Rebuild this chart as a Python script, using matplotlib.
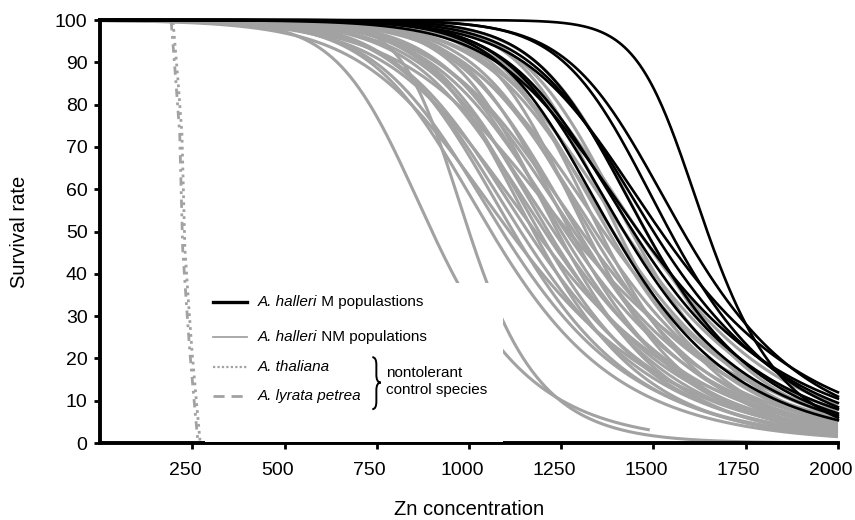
import numpy as np
import matplotlib
matplotlib.use('Agg')
import matplotlib.pyplot as plt
from matplotlib.patches import Rectangle, PathPatch
from matplotlib.path import Path
from matplotlib.transforms import ScaledTranslation

plt.rcParams['font.family'] = ['Liberation Sans', 'DejaVu Sans']

# ---------------------------------------------------------------------------
# Data
# each population curve: Zn at 50 % survival, last Zn tested, survival there
# ---------------------------------------------------------------------------
m_ld50 = [1390, 1420, 1445, 1460, 1480, 1500, 1520, 1545, 1580, 1646]
m_end = [5.4, 6.5, 8.0, 10.5, 7.0, 9.5, 12.0, 8.5, 11.0, 6.0]
m_xmax = [2000] * 10

nm_ld50 = [900, 1000, 1060, 1090, 1110, 1120, 1140, 1160, 1175, 1180, 1190,
           1205, 1215, 1230, 1240, 1250, 1262, 1270, 1275, 1285, 1295, 1305,
           1318, 1330, 1342, 1355, 1365, 1378, 1390, 1405, 1420, 1440, 1460,
           1480]
nm_end = [3.1, 0.05, 1.5, 2.0, 3.5, 1.8, 2.5, 3.0, 1.6, 4.5, 2.2,
          3.5, 2.8, 4.0, 2.0, 3.2, 4.5, 7.5, 2.6, 5.0, 3.8, 6.0,
          2.4, 4.2, 5.5, 3.0, 7.0, 4.8, 6.5, 3.6, 8.0, 5.2, 9.0,
          6.2]
nm_xmax = [1490] + [2000] * 33

thaliana_zn = [198, 212, 222, 230, 240, 249, 260, 271]
thaliana_surv = [99.5, 85, 73, 46, 33, 22, 11, 0.5]
lyrata_zn = [193, 206, 216, 224, 234, 243, 254, 265]
lyrata_surv = [99.5, 85, 73, 46, 33, 22, 11, 0.5]

x_ticks = [250, 500, 750, 1000, 1250, 1500, 1750, 2000]
y_ticks = list(range(0, 101, 10))

GRAY = '#a2a2a2'


def survival(ld50, y_end, x_end, shape, xs):
    """generalised logistic through 50 % at ld50 and y_end at x_end"""
    z50 = np.log(2 ** (1 / shape) - 1)
    z_end = np.log((y_end / 100) ** (-1 / shape) - 1)
    s = (x_end - ld50) / (z_end - z50)
    m = ld50 - z50 * s
    return 100 * (1 + np.exp((xs - m) / s)) ** (-shape)


fig = plt.figure(figsize=(8.55, 5.2), dpi=100)
ax = fig.add_axes([0.117, 0.148, 0.863, 0.8135])

for ld, ye, xe in zip(nm_ld50, nm_end, nm_xmax):
    xs = np.linspace(0, xe, 500)
    ax.plot(xs, survival(ld, ye, xe, 0.5, xs), color=GRAY, lw=2.2,
            solid_capstyle='butt', clip_on=False, zorder=2)

for ld, ye, xe in zip(m_ld50, m_end, m_xmax):
    xs = np.linspace(0, xe, 500)
    ax.plot(xs, survival(ld, ye, xe, 0.45, xs), color='black', lw=1.9,
            clip_on=False, zorder=2.2)

ax.plot(lyrata_zn, lyrata_surv, color=GRAY, lw=2, dashes=(3, 2, 1, 2),
        clip_on=False, zorder=2.3)
ax.plot(thaliana_zn, thaliana_surv, color=GRAY, lw=2, dashes=(1, 1.5),
        clip_on=False, zorder=2.3)

# white panel behind the legend (hides the curves like in the original)
ax.add_patch(Rectangle((0.142, 0.002), 0.404, 0.377, transform=ax.transAxes,
                       facecolor='white', edgecolor='none', zorder=3))

# legend, drawn by hand
rows = [0.333, 0.251, 0.180, 0.111]
styles = [dict(color='black', lw=2.4),
          dict(color=GRAY, lw=1.3),
          dict(color=GRAY, lw=1.6, dashes=(1, 1)),
          dict(color=GRAY, lw=2.0, dashes=(4, 2.5, 4, 2.5, 1, 2.5))]
names = ['A. halleri', 'A. halleri', 'A. thaliana', 'A. lyrata petrea']
rest = [' M populastions', ' NM populations', '', '']
for y, st, nm, rs in zip(rows, styles, names, rest):
    ax.plot([0.153, 0.199], [y, y], transform=ax.transAxes, zorder=4, **st)
    t = ax.text(0.214, y, nm, transform=ax.transAxes, fontsize=11,
                style='italic', va='center', zorder=4)
    if rs:
        ax.annotate(rs, xy=(1, 0.5), xycoords=t, va='center', fontsize=11,
                    zorder=4)

# curly brace
x0, xm, xt = 0.369, 0.3745, 0.3805
yt, yc, yb, d = 0.203, 0.143, 0.080, 0.018
brace = Path([(x0, yt), (xm, yt), (xm, yt - d), (xm, yc + d), (xm, yc),
              (xt, yc), (xm, yc), (xm, yc - d), (xm, yb + d), (xm, yb),
              (x0, yb)],
             [Path.MOVETO, Path.CURVE3, Path.CURVE3, Path.LINETO,
              Path.CURVE3, Path.CURVE3, Path.CURVE3, Path.CURVE3,
              Path.LINETO, Path.CURVE3, Path.CURVE3])
ax.add_patch(PathPatch(brace, transform=ax.transAxes, facecolor='none',
                       edgecolor='black', lw=1.4, zorder=4))
ax.text(0.388, 0.146, 'nontolerant\ncontrol species', transform=ax.transAxes,
        fontsize=11, va='center', linespacing=1.3, zorder=4)

ax.set_xlim(0, 2000)
ax.set_ylim(0, 100)
ax.set_xticks(x_ticks)
ax.set_yticks(y_ticks)
ax.spines['top'].set_visible(False)
ax.spines['right'].set_visible(False)
ax.spines['left'].set_linewidth(2.8)
ax.spines['bottom'].set_linewidth(2.8)
ax.tick_params(axis='both', direction='out', length=4, width=2, labelsize=14)
ax.tick_params(axis='x', pad=10)
ax.tick_params(axis='y', pad=5)
shift = ScaledTranslation(-7 / 100, 0, fig.dpi_scale_trans)
for lab in ax.get_xticklabels():
    lab.set_transform(lab.get_transform() + shift)
ax.set_xlabel('Zn concentration', fontsize=14.5, labelpad=15)
ax.set_ylabel('Survival rate', fontsize=14.5, labelpad=19)

fig.savefig('out.png', dpi=100)
